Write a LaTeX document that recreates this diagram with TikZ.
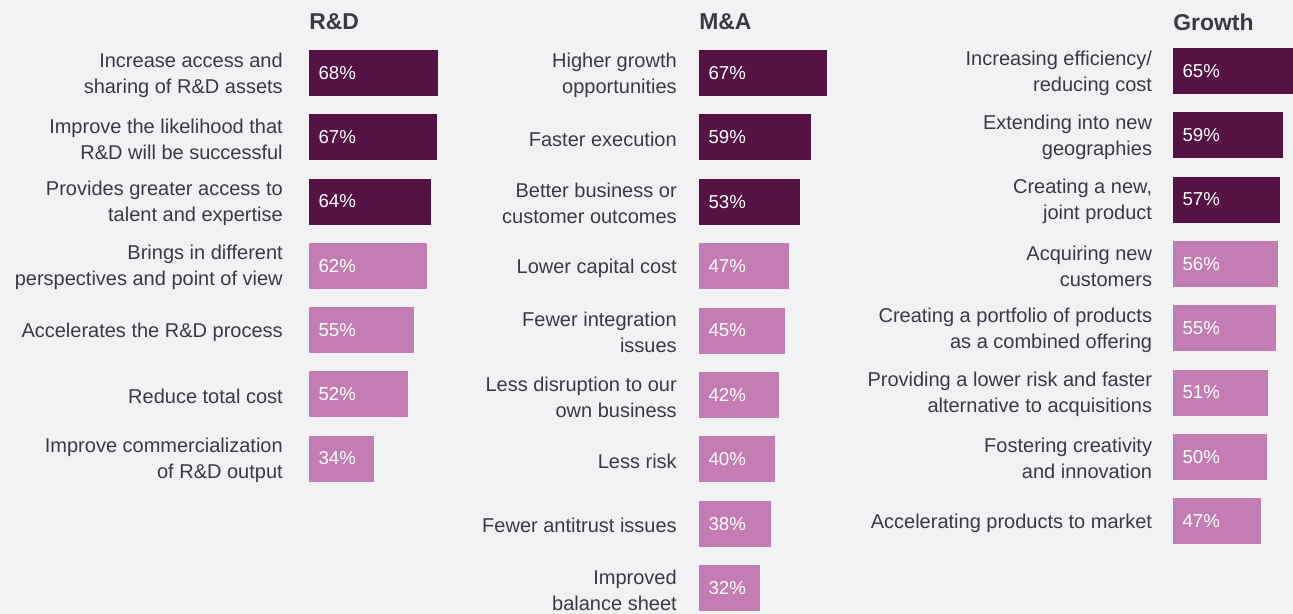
\documentclass[tikz,border=0pt]{standalone}
\usepackage{fontspec}
\setmainfont{Liberation Sans}
\usetikzlibrary{positioning}
\definecolor{plum}{HTML}{561145}
\definecolor{orchid}{HTML}{C47DB3}
\definecolor{paper}{HTML}{F2F2F4}
\definecolor{ink}{HTML}{3A3A42}
\tikzstyle{bar} = [rectangle, anchor=west, minimum height=34.5pt, inner sep=0pt]
\tikzstyle{pct} = [text=white, inner sep=0pt, font=\fontsize{14}{16}\selectfont]
\tikzstyle{reason} = [align=right, text=ink, inner sep=0pt, yshift=-1.5pt,
    font=\fontsize{15}{19.5}\selectfont]
\tikzstyle{head} = [anchor=west, text=ink, inner sep=0pt,
    font=\bfseries\fontsize{17.2}{19}\selectfont]

\begin{document}
\begin{tikzpicture}[x=0.75pt, y=-0.75pt]
    % Background
    \fill [paper] (0,0) rectangle (1293,614);
    \useasboundingbox (0,0) rectangle (1293,614);
    % Headings
    \node [head] (hrd) at (309,22) {R\&D};
    \node [head] (hma) at (699,22) {M\&A};
    \node [head] (hgr) at (1173,22) {Growth};
    % R&D
    \foreach \pc/\col/\txt [count=\i] in {
        68/plum/{Increase access and\\sharing of R\&D assets},
        67/plum/{Improve the likelihood that\\R\&D will be successful},
        64/plum/{Provides greater access to\\talent and expertise},
        62/orchid/{Brings in different\\perspectives and point of view},
        55/orchid/{Accelerates the R\&D process},
        52/orchid/{Reduce total cost},
        34/orchid/{Improve commercialization\\of R\&D output}}{
        \node [bar, fill=\col, minimum width=1.425pt*\pc] (rd\i) at (309,{73+64.25*(\i-1)}) {};
        \node [pct, right=7pt of rd\i.west] (rdp\i) {\pc\%};
        \node [reason, left=19.5pt of rd\i] (rdt\i) {\txt};
    }
    % M&A
    \foreach \pc/\col/\txt [count=\i] in {
        67/plum/{Higher growth\\opportunities},
        59/plum/{Faster execution},
        53/plum/{Better business or\\customer outcomes},
        47/orchid/{Lower capital cost},
        45/orchid/{Fewer integration\\issues},
        42/orchid/{Less disruption to our\\own business},
        40/orchid/{Less risk},
        38/orchid/{Fewer antitrust issues},
        32/orchid/{Improved\\balance sheet}}{
        \node [bar, fill=\col, minimum width=1.425pt*\pc] (ma\i) at (699,{73+64.4*(\i-1)}) {};
        \node [pct, right=7pt of ma\i.west] (map\i) {\pc\%};
        \node [reason, left=16.5pt of ma\i] (mat\i) {\txt};
    }
    % Growth
    \foreach \pc/\col/\txt [count=\i] in {
        65/plum/{Increasing efficiency/\\reducing cost},
        59/plum/{Extending into new\\geographies},
        57/plum/{Creating a new,\\joint product},
        56/orchid/{Acquiring new\\customers},
        55/orchid/{Creating a portfolio of products\\as a combined offering},
        51/orchid/{Providing a lower risk and faster\\alternative to acquisitions},
        50/orchid/{Fostering creativity\\and innovation},
        47/orchid/{Accelerating products to market}}{
        \node [bar, fill=\col, minimum width=1.4pt*\pc] (gr\i) at (1173,{71+64.3*(\i-1)}) {};
        \node [pct, right=7pt of gr\i.west] (grp\i) {\pc\%};
        \node [reason, left=15.5pt of gr\i] (grt\i) {\txt};
    }
\end{tikzpicture}
\end{document}
